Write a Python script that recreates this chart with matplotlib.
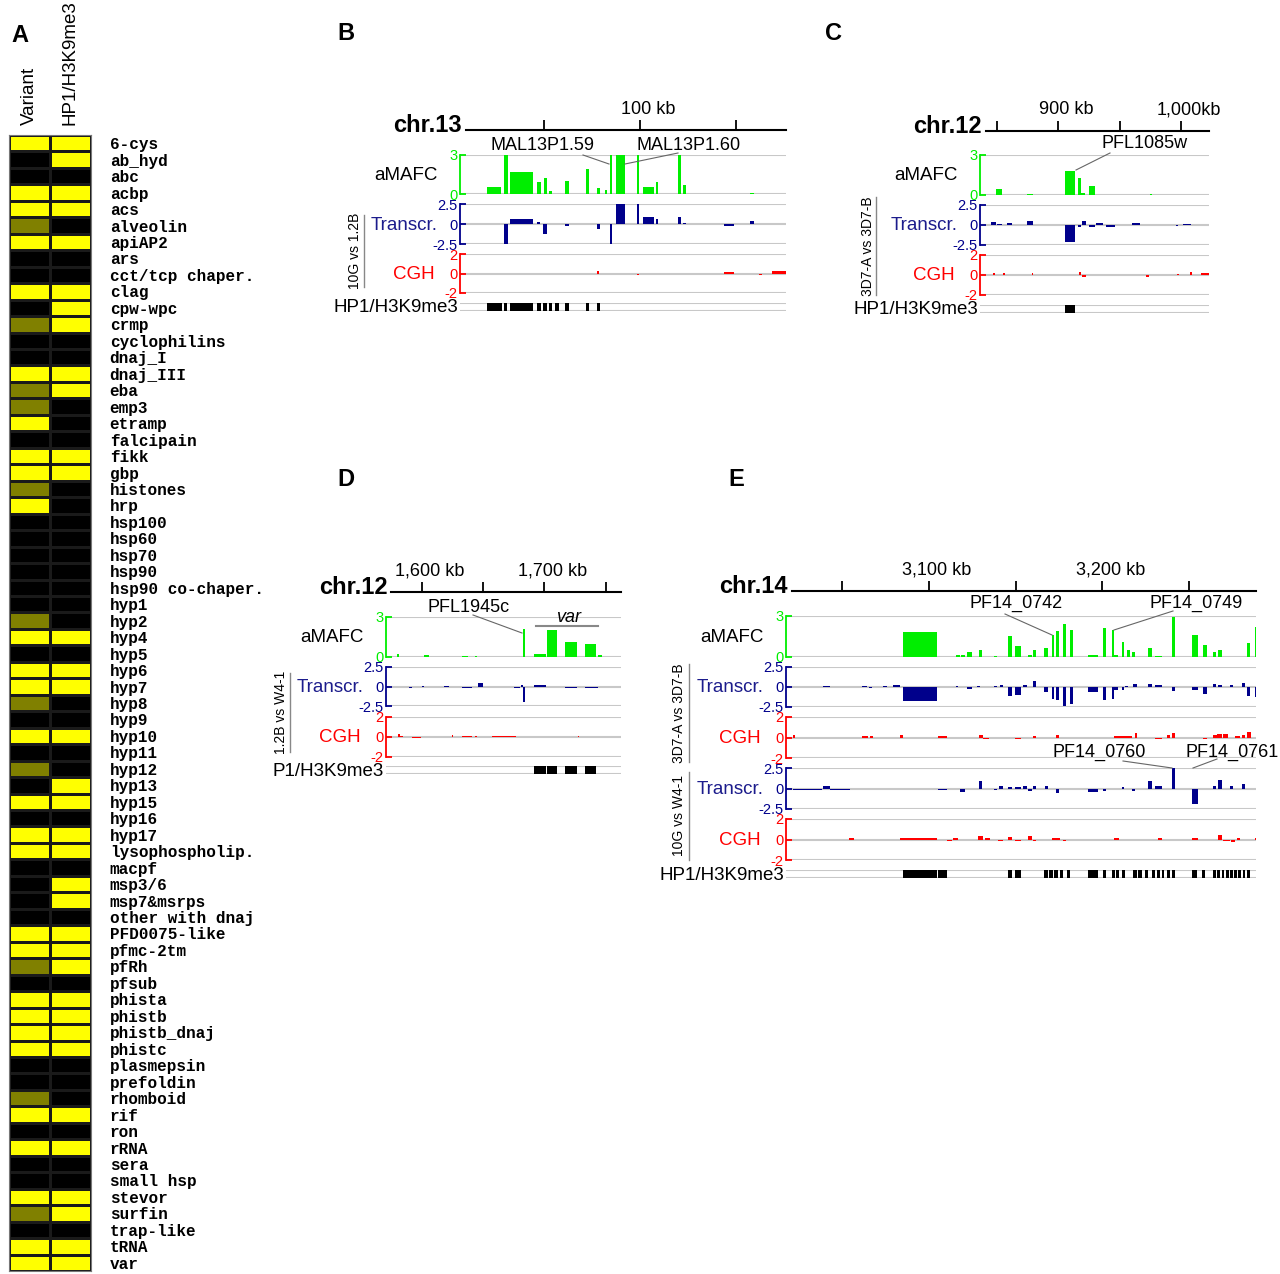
import numpy as np
import matplotlib.pyplot as plt
from matplotlib.colors import ListedColormap

# ---- panel A: gene families, 0 = black, 1 = olive, 2 = yellow
families = ["6-cys", "ab_hyd", "abc", "acbp", "acs", "alveolin", "apiAP2", "ars",
            "cct/tcp chaper.", "clag", "cpw-wpc", "crmp", "cyclophilins", "dnaj_I",
            "dnaj_III", "eba", "emp3", "etramp", "falcipain", "fikk", "gbp", "histones",
            "hrp", "hsp100", "hsp60", "hsp70", "hsp90", "hsp90 co-chaper.", "hyp1",
            "hyp2", "hyp4", "hyp5", "hyp6", "hyp7", "hyp8", "hyp9", "hyp10", "hyp11",
            "hyp12", "hyp13", "hyp15", "hyp16", "hyp17", "lysophospholip.", "macpf",
            "msp3/6", "msp7&msrps", "other with dnaj", "PFD0075-like", "pfmc-2tm",
            "pfRh", "pfsub", "phista", "phistb", "phistb_dnaj", "phistc", "plasmepsin",
            "prefoldin", "rhomboid", "rif", "ron", "rRNA", "sera", "small hsp",
            "stevor", "surfin", "trap-like", "tRNA", "var"]
variant = [2, 0, 0, 2, 2, 1, 2, 0, 0, 2, 0, 1, 0, 0, 2, 1, 1, 2, 0, 2,
           2, 1, 2, 0, 0, 0, 0, 0, 0, 1, 2, 0, 2, 2, 1, 0, 2, 0, 1, 0,
           2, 0, 2, 2, 0, 0, 0, 0, 2, 2, 1, 0, 2, 2, 2, 2, 0, 0, 1, 2,
           0, 2, 0, 0, 2, 1, 0, 2, 2]
hp1 = [2, 2, 0, 2, 2, 0, 2, 0, 0, 2, 2, 2, 0, 0, 2, 2, 0, 0, 0, 2,
       2, 0, 0, 0, 0, 0, 0, 0, 0, 0, 2, 0, 2, 2, 0, 0, 2, 0, 0, 2,
       2, 0, 2, 2, 0, 2, 2, 0, 2, 2, 2, 0, 2, 2, 2, 2, 0, 0, 0, 2,
       0, 2, 0, 0, 2, 2, 0, 2, 2]
columns = ["Variant", "HP1/H3K9me3"]

# ---- panel B, chr.13 (kb): (start, end, value)
b_amafc = [(59.9, 63.6, 0.56), (64.5, 65.4, 3.0), (66.1, 72.1, 1.72), (73.1, 74.0, 0.95),
           (74.9, 75.7, 1.2), (76.3, 77.1, 0.23), (80.5, 81.4, 1.03), (85.8, 86.7, 1.92),
           (88.7, 89.5, 0.44), (90.8, 91.4, 0.3), (92.1, 92.8, 3.0), (93.8, 96.1, 3.0),
           (99.1, 99.8, 3.0), (100.9, 103.7, 0.56), (104.2, 104.8, 0.95), (110.0, 110.7, 3.0),
           (111.2, 112.0, 0.7), (128.8, 129.9, 0.1)]
b_transcr = [(64.5, 65.4, -2.5), (66.1, 72.1, 0.58), (73.1, 73.8, 0.3), (74.7, 75.7, -1.3),
             (80.5, 81.4, -0.3), (88.7, 89.5, -0.67), (92.1, 92.8, -2.5), (93.8, 96.1, 2.5),
             (99.1, 99.8, 2.5), (100.9, 103.7, 0.92), (104.2, 104.8, 0.58), (110.0, 110.7, 0.9),
             (111.2, 112.0, 0.17), (122.1, 124.7, -0.2), (128.8, 129.9, 0.37)]
b_cgh = [(88.7, 89.4, 0.24), (99.1, 99.8, -0.2), (122.1, 124.7, 0.14), (131.2, 131.8, -0.14),
         (134.5, 138.2, 0.24)]
b_hp1 = [(59.9, 63.8), (64.5, 65.2), (66.1, 72.1), (73.1, 74.0), (74.7, 75.6), (76.2, 77.1),
         (77.8, 78.9), (80.5, 81.4), (85.8, 86.7), (88.7, 89.5)]

# ---- panel C, chr.12
c_amafc = [(849.4, 854.0, 0.42), (874.3, 879.2, 0.1), (905.4, 913.6, 1.82), (916.3, 918.2, 1.25),
           (918.2, 921.7, 0.17), (925.2, 929.8, 0.68), (974.5, 976.4, 0.08)]
c_transcr = [(845.1, 849.4, 0.4), (850.5, 854.0, 0.15), (858.1, 862.1, 0.25), (874.3, 879.2, 0.5),
             (905.4, 913.6, -2.1), (916.3, 918.2, -0.2), (919.5, 922.3, 0.5), (925.2, 929.8, -0.2),
             (930.6, 936.6, 0.2), (939.3, 946.1, -0.2), (960.4, 966.4, 0.2), (996.2, 997.5, -0.1),
             (1001.5, 1008.4, 0.1)]
c_cgh = [(847.2, 848.6, 0.23), (855.3, 856.7, 0.17), (878.4, 879.7, 0.23), (916.8, 918.2, 0.3),
         (919.0, 922.3, -0.23), (971.8, 973.9, -0.23), (997.0, 998.3, 0.13), (1007.5, 1009.2, 0.3),
         (1016.5, 1022.7, 0.17)]
c_hp1 = [(905.4, 913.6)]

# ---- panel D, chr.12
d_amafc = [(1579.6, 1581.3, 0.2), (1602.1, 1606.2, 0.12), (1632.6, 1638.0, 0.08),
           (1643.5, 1645.3, 0.08), (1682.3, 1684.2, 2.1), (1691.5, 1701.3, 0.25),
           (1701.9, 1710.1, 2.05), (1716.8, 1726.4, 1.12), (1733.1, 1742.1, 0.95),
           (1744.0, 1746.7, 0.18)]
d_transcr = [(1583.7, 1585.0, -0.12), (1589.9, 1591.8, -0.2), (1600.0, 1601.9, 0.12),
             (1603.3, 1606.8, -0.08), (1612.2, 1614.9, -0.08), (1618.4, 1622.5, 0.12),
             (1632.6, 1640.8, -0.25), (1643.5, 1645.3, -0.08), (1646.2, 1649.7, 0.4),
             (1675.2, 1680.1, -0.25), (1680.9, 1682.3, 0.2), (1682.3, 1684.2, -1.95),
             (1691.5, 1701.3, 0.17), (1716.8, 1726.4, -0.17), (1733.1, 1744.0, -0.17)]
d_cgh = [(1580.9, 1582.3, 0.33), (1582.3, 1584.5, 0.13), (1591.8, 1599.2, -0.13),
         (1624.5, 1625.8, 0.23), (1632.6, 1640.8, 0.1), (1643.5, 1645.3, 0.1),
         (1657.6, 1676.9, 0.13), (1727.2, 1728.5, 0.1)]
d_hp1 = [(1691.5, 1701.3), (1701.9, 1710.1), (1716.8, 1726.4), (1733.1, 1742.1)]

# ---- panel E, chr.14
e_amafc = [(3085.4, 3104.6, 1.82), (3115.8, 3117.8, 0.17), (3118.5, 3120.9, 0.12),
           (3122.2, 3125.1, 0.37), (3129.1, 3130.7, 0.54), (3137.8, 3139.5, 0.1),
           (3145.8, 3148.1, 1.52), (3149.7, 3153.1, 0.81), (3157.4, 3159.3, 0.17),
           (3159.9, 3161.8, 0.49), (3166.4, 3168.9, 0.69), (3170.8, 3172.3, 1.6),
           (3173.1, 3175.2, 1.9), (3177.1, 3179.1, 2.4), (3181.4, 3182.9, 1.97),
           (3191.5, 3197.7, 0.17), (3200.6, 3202.1, 2.1), (3205.4, 3206.9, 2.0),
           (3206.9, 3209.2, 0.12), (3211.1, 3212.7, 1.13), (3214.0, 3215.9, 0.49),
           (3216.9, 3218.8, 0.37), (3226.5, 3228.4, 0.69), (3230.3, 3234.2, 0.1),
           (3240.3, 3242.0, 2.95), (3251.8, 3254.9, 1.6), (3257.8, 3260.1, 0.91),
           (3263.9, 3265.3, 0.34), (3266.8, 3268.7, 0.54), (3283.1, 3285.0, 1.03),
           (3288.0, 3288.9, 2.2)]
e_transcr1 = [(3022.1, 3024.0, 0.05), (3039.3, 3043.2, 0.08), (3061.4, 3064.3, 0.1),
              (3065.8, 3067.2, -0.1), (3073.9, 3076.2, 0.15), (3079.7, 3083.5, 0.2),
              (3085.4, 3104.6, -1.8), (3115.8, 3117.1, 0.15), (3122.2, 3125.1, -0.2),
              (3127.6, 3129.5, 0.1), (3137.8, 3139.5, 0.12), (3141.0, 3143.0, 0.2),
              (3145.8, 3147.8, -1.1), (3149.7, 3153.1, -0.95), (3154.5, 3156.4, 0.2),
              (3159.9, 3161.8, 0.75), (3166.4, 3168.9, -0.6), (3170.8, 3172.3, -1.45),
              (3173.1, 3175.2, -1.65), (3177.1, 3179.1, -2.4), (3181.4, 3182.9, -2.1),
              (3191.5, 3197.7, -0.6), (3200.6, 3202.1, -1.65), (3205.4, 3206.9, -1.45),
              (3206.9, 3209.2, -0.4), (3211.1, 3212.7, -0.33), (3213.0, 3214.8, 0.1),
              (3217.8, 3219.8, 0.4), (3226.5, 3228.4, 0.4), (3230.3, 3234.2, 0.2),
              (3240.3, 3242.0, -0.5), (3251.8, 3254.9, -0.4), (3257.8, 3260.1, -0.83),
              (3263.9, 3265.3, 0.4), (3266.8, 3268.7, 0.2), (3273.5, 3275.4, 0.2),
              (3280.2, 3282.2, 0.5), (3283.1, 3285.0, -1.1), (3288.0, 3288.9, -1.25)]
e_cgh1 = [(3021.7, 3023.2, 0.2), (3061.4, 3065.3, 0.1), (3066.2, 3068.1, 0.1),
          (3083.5, 3085.0, 0.2), (3105.6, 3110.4, 0.1), (3129.1, 3131.1, 0.22),
          (3131.4, 3134.9, -0.1), (3149.7, 3153.1, -0.1), (3159.9, 3161.8, 0.13),
          (3173.1, 3175.2, 0.22), (3206.7, 3216.9, 0.13), (3218.8, 3219.8, 0.4),
          (3230.3, 3234.2, -0.1), (3237.0, 3239.0, 0.2), (3240.3, 3242.0, 0.48),
          (3257.8, 3260.1, -0.1), (3263.9, 3265.8, 0.25), (3266.2, 3268.7, 0.32),
          (3269.7, 3272.6, 0.32), (3276.4, 3279.3, 0.15), (3280.2, 3282.2, 0.2),
          (3283.1, 3285.4, 0.54)]
e_transcr2 = [(3022.1, 3038.4, -0.17), (3039.0, 3043.2, 0.36), (3043.2, 3054.7, -0.24),
              (3071.0, 3072.4, -0.1), (3105.6, 3110.4, -0.17), (3118.0, 3121.0, -0.4),
              (3129.1, 3130.7, 0.97), (3137.8, 3139.5, -0.17), (3140.7, 3142.6, 0.36),
              (3145.8, 3147.8, 0.24), (3149.7, 3153.1, 0.16), (3154.5, 3156.4, 0.36),
              (3157.4, 3159.3, -0.32), (3159.9, 3161.8, 0.36), (3167.0, 3168.9, 0.28),
              (3173.1, 3175.2, -0.6), (3191.5, 3197.7, -0.4), (3200.6, 3202.1, -0.32),
              (3211.1, 3212.7, 0.24), (3216.9, 3218.8, -0.32), (3226.5, 3228.4, 0.9),
              (3230.3, 3234.2, 0.28), (3240.3, 3242.0, 2.5), (3251.8, 3254.9, -1.85),
              (3263.9, 3265.3, 0.28), (3266.8, 3268.7, 1.0), (3273.5, 3275.4, 0.36),
              (3280.2, 3282.2, 0.6), (3288.3, 3288.9, 0.77)]
e_cgh2 = [(3054.3, 3057.0, 0.1), (3083.5, 3104.6, 0.13), (3110.4, 3113.3, -0.1),
          (3114.2, 3117.1, 0.1), (3128.6, 3131.4, 0.3), (3132.4, 3135.3, 0.16),
          (3140.1, 3143.0, -0.16), (3145.8, 3147.8, 0.23), (3149.7, 3153.1, -0.1),
          (3157.4, 3159.3, 0.36), (3159.9, 3161.8, -0.1), (3170.8, 3175.6, 0.1),
          (3177.1, 3179.1, -0.13), (3206.7, 3209.8, 0.1), (3232.2, 3234.2, 0.1),
          (3251.8, 3254.9, 0.1), (3266.8, 3268.7, 0.43), (3269.7, 3273.5, -0.1),
          (3273.9, 3276.4, -0.23), (3277.4, 3279.3, 0.16), (3288.0, 3288.9, 0.1)]
e_hp1 = [(3085.4, 3104.6), (3105.6, 3110.4), (3145.5, 3148.1), (3149.7, 3153.1),
         (3166.6, 3168.5), (3169.5, 3171.4), (3172.3, 3174.3), (3175.6, 3177.5),
         (3179.4, 3181.4), (3191.5, 3197.7), (3200.6, 3202.1), (3205.4, 3207.3),
         (3207.9, 3209.8), (3211.1, 3213.0), (3217.8, 3219.8), (3220.7, 3222.6),
         (3224.6, 3226.5), (3228.4, 3230.3), (3231.3, 3233.2), (3234.2, 3235.5),
         (3237.0, 3239.0), (3240.3, 3242.0), (3251.8, 3254.3), (3257.2, 3259.1),
         (3263.9, 3265.5), (3266.2, 3267.8), (3268.7, 3270.3), (3271.2, 3272.8),
         (3273.5, 3275.1), (3275.8, 3277.4), (3278.3, 3279.9), (3280.8, 3282.4),
         (3283.5, 3285.0), (3288.3, 3288.9)]

W, H = 1280, 1274
plt.rcParams['font.family'] = ['Liberation Sans', 'DejaVu Sans']
fig = plt.figure(figsize=(W / 100, H / 100), dpi=100)

GREEN = '#00ee00'
NAVY = '#00008b'
RED = '#ff0000'
GRID = '#c8c8c8'


def add_px(x0, y0, x1, y1):
    return fig.add_axes([x0 / W, 1 - y1 / H, (x1 - x0) / W, (y1 - y0) / H])


# ---------------- panel A
axA = add_px(9, 135, 91, 1271)
M = np.column_stack([variant, hp1])
cmap = ListedColormap(['#000000', '#808000', '#ffff00'])
axA.pcolormesh(np.arange(3), np.arange(len(families) + 1), M, cmap=cmap, vmin=0, vmax=2,
               edgecolors='#1a1a1a', linewidth=1.0)
axA.set_xlim(0, 2)
axA.set_ylim(len(families), 0)
axA.yaxis.tick_right()
axA.set_yticks(np.arange(len(families)) + 0.5, families, family='Liberation Mono',
               fontweight='bold', fontsize=11.5)
axA.xaxis.tick_top()
axA.set_xticks([0.5, 1.5], columns, rotation=90, fontsize=13.5)
axA.tick_params(length=0)
axA.tick_params(axis='y', pad=13.5)
axA.tick_params(axis='x', pad=7)
for sp in axA.spines.values():
    sp.set_color('#777777')

# ---------------- overlay for text in pixel coordinates
ov = fig.add_axes([0, 0, 1, 1], zorder=5)
ov.set_xlim(0, W)
ov.set_ylim(H, 0)
ov.axis('off')

for letter, x, y in [('A', 20, 35), ('B', 346, 33), ('C', 833, 33), ('D', 346, 479), ('E', 736, 479)]:
    ov.text(x, y, letter, fontsize=17, fontweight='bold', ha='center', va='center')

STYLE = {
    'amafc': dict(color=GREEN, ylim=(0, 3), ticks=[0, 3], labels=['0', '3'], name='aMAFC',
                  tcolor='black', off=22),
    'transcr': dict(color=NAVY, ylim=(-2.5, 2.5), ticks=[-2.5, 0, 2.5], labels=['-2.5', '0', '2.5'],
                    name='Transcr.', tcolor='#1c1c8c', off=22),
    'cgh': dict(color=RED, ylim=(-2, 2), ticks=[-2, 0, 2], labels=['-2', '0', '2'], name='CGH',
                tcolor=RED, off=25),
}


def draw_track(kind, y0, y1, rows, p):
    ax = add_px(p['x0'], y0, p['x1'], y1)
    ax.set_xlim(p['xlim'])
    ax.set_xticks([])
    for sp in ['top', 'right', 'bottom']:
        ax.spines[sp].set_visible(False)
    if kind == 'hp1':
        s = np.array([r[0] for r in rows])
        e = np.array([r[1] for r in rows])
        ax.bar(s, 1, width=e - s, align='edge', color='black', linewidth=0)
        ax.set_ylim(0, 1)
        ax.axhline(0, color=GRID, lw=1.5, zorder=0)
        ax.axhline(1, color=GRID, lw=1.5, zorder=0)
        ax.spines['left'].set_visible(False)
        ax.set_yticks([])
        ov.text(p['x0'] - 2, (y0 + y1) / 2 + 1, p.get('hp1_name', 'HP1/H3K9me3'),
                fontsize=13.5, ha='right', va='center')
        return ax
    st = STYLE[kind]
    s = np.array([r[0] for r in rows])
    e = np.array([r[1] for r in rows])
    v = np.array([r[2] for r in rows])
    ax.bar(s, v, width=e - s, align='edge', color=st['color'], linewidth=0)
    ax.set_ylim(st['ylim'])
    for yy in st['ticks']:
        ax.axhline(yy, color=GRID, lw=1.5, zorder=0)
    ax.spines['left'].set_color(st['color'])
    ax.spines['left'].set_linewidth(1.3)
    ax.set_yticks(st['ticks'], st['labels'])
    ax.tick_params(axis='y', direction='in', length=4, width=1.3, colors=st['color'],
                   labelsize=10.5, pad=2)
    ymid = (y0 + y1) / 2
    ov.text(p['x0'] - st['off'], ymid + 1, st['name'], fontsize=13.5, color=st['tcolor'],
            ha='right', va='center')
    return ax


def draw_panel(p):
    # ruler
    rax = add_px(p['x0'], p['ruler_y'] - 10, p['x1'], p['ruler_y'])
    rax.set_xlim(p['xlim'])
    rax.set_ylim(0, 1)
    rax.axis('off')
    rax.plot([p['ruler_start'], p['xlim'][1]], [0, 0], color='black', lw=1.5, clip_on=False)
    rax.vlines(p['ticks'], 0, 1, color='black', lw=1.3)
    for t, lab in p['tick_labels'].items():
        rax.annotate(lab, xy=(t, 1), xytext=(8, 11), textcoords='offset pixels',
                     fontsize=13, ha='center', va='center')
    ov.text(p['x0'] + 2, p['ruler_y'] + 2, p['chr'], fontsize=17, fontweight='bold',
            ha='right', va='baseline')
    for kind, y0, y1, rows in p['tracks']:
        draw_track(kind, y0, y1, rows, p)
    for text, tx, lx, ya, yb in p['groups']:
        ov.plot([lx, lx], [ya, yb], color='#888888', lw=1)
        ov.text(tx, (ya + yb) / 2, text, fontsize=10, rotation=90, ha='center', va='center')
    for text, x, y, line in p['genes']:
        ov.text(x, y, text, fontsize=13, ha='center', va='center')
        ov.plot([line[0], line[2]], [line[1], line[3]], color='#666666', lw=0.8)


panels = [
    dict(x0=460, x1=786, xlim=(52.9, 138.2), ruler_y=130, ruler_start=54.5,
         ticks=[75, 100, 125], tick_labels={100: '100 kb'}, chr='chr.13',
         tracks=[('amafc', 155, 194, b_amafc), ('transcr', 204, 244, b_transcr),
                 ('cgh', 254, 293, b_cgh), ('hp1', 303, 311, b_hp1)],
         groups=[('10G vs 1.2B', 355, 364, 215, 287)],
         genes=[('MAL13P1.59', 542, 145, (583, 155, 609, 164)),
                ('MAL13P1.60', 689, 145, (678, 153, 625, 164))]),
    dict(x0=980, x1=1209, xlim=(836.4, 1022.7), ruler_y=131, ruler_start=841.3,
         ticks=[850, 900, 950, 1000], tick_labels={900: '900 kb', 1000: '1,000kb'}, chr='chr.12',
         tracks=[('amafc', 155, 195, c_amafc), ('transcr', 205, 245, c_transcr),
                 ('cgh', 255, 295, c_cgh), ('hp1', 305, 313, c_hp1)],
         groups=[('3D7-A vs 3D7-B', 868, 876, 197, 295)],
         genes=[('PFL1085w', 1145, 143, (1110, 153, 1076, 170))]),
    dict(x0=386, x1=621, xlim=(1570.9, 1762.5), ruler_y=592, ruler_start=1575.0,
         ticks=[1600, 1650, 1700, 1750], tick_labels={1600: '1,600 kb', 1700: '1,700 kb'},
         chr='chr.12', hp1_name='P1/H3K9me3',
         tracks=[('amafc', 617, 657, d_amafc), ('transcr', 667, 706, d_transcr),
                 ('cgh', 717, 757, d_cgh), ('hp1', 766, 774, d_hp1)],
         groups=[('1.2B vs W4-1', 281, 290, 673, 752)],
         genes=[('PFL1945c', 469, 607, (473, 615, 522, 633))]),
    dict(x0=786, x1=1256, xlim=(3017.8, 3288.5), ruler_y=591, ruler_start=3021.1,
         ticks=[3050, 3100, 3150, 3200, 3250], tick_labels={3100: '3,100 kb', 3200: '3,200 kb'},
         chr='chr.14',
         tracks=[('amafc', 616, 657, e_amafc), ('transcr', 667, 707, e_transcr1),
                 ('cgh', 717, 758, e_cgh1), ('transcr', 768, 809, e_transcr2),
                 ('cgh', 819, 860, e_cgh2), ('hp1', 870, 878, e_hp1)],
         groups=[('3D7-A vs 3D7-B', 679, 689, 664, 762), ('10G vs W4-1', 679, 689, 772, 860)],
         genes=[('PF14_0742', 1016, 603, (1005, 614, 1052, 635)),
                ('PF14_0749', 1196, 603, (1173, 611, 1114, 630)),
                ('PF14_0760', 1099, 752, (1123, 761, 1172, 768)),
                ('PF14_0761', 1232, 752, (1217, 759, 1193, 768))]),
]

for p in panels:
    draw_panel(p)

# var bracket in panel D
ov.plot([536, 598], [626, 626], color='#888888', lw=1.5)
ov.text(569, 618, 'var', fontsize=13, style='italic', ha='center', va='center')

fig.savefig('out.png', dpi=100)
